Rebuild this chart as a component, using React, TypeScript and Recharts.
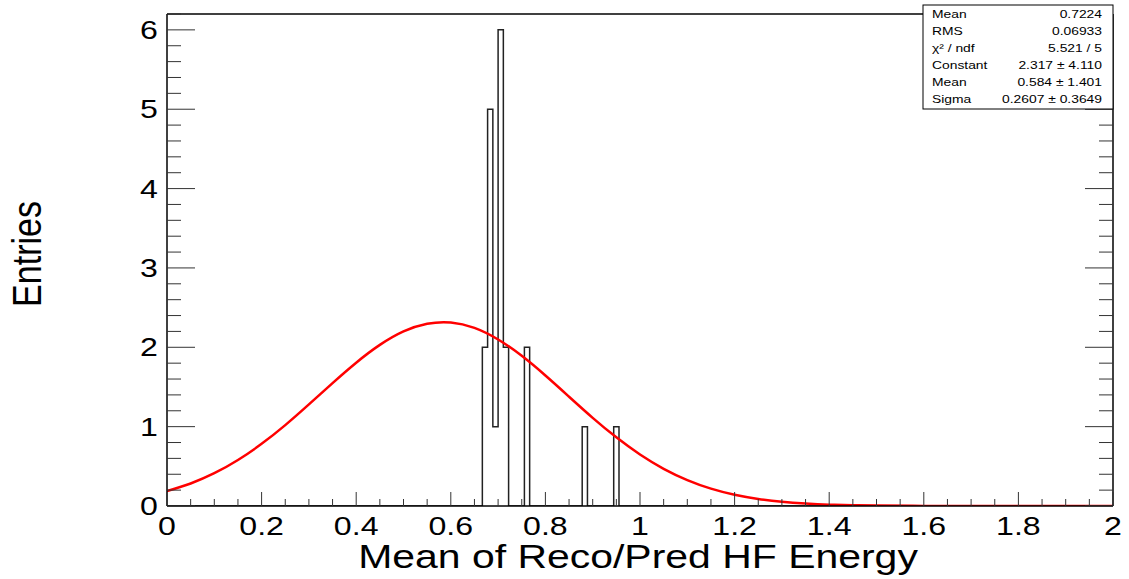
import React from 'react';
import { ComposedChart, Line, XAxis, YAxis } from 'recharts';

const FONT = '"Liberation Sans", Arial, sans-serif';
// the reference picture is stretched sideways, so text is too
const SX = 1.26;

const xMajorTicks = [0, 0.2, 0.4, 0.6, 0.8, 1, 1.2, 1.4, 1.6, 1.8, 2];
const xAllTicks = [
  0, 0.05, 0.1, 0.15, 0.2, 0.25, 0.3, 0.35, 0.4, 0.45, 0.5, 0.55, 0.6, 0.65,
  0.7, 0.75, 0.8, 0.85, 0.9, 0.95, 1, 1.05, 1.1, 1.15, 1.2, 1.25, 1.3, 1.35,
  1.4, 1.45, 1.5, 1.55, 1.6, 1.65, 1.7, 1.75, 1.8, 1.85, 1.9, 1.95, 2,
];
const yMajorTicks = [0, 1, 2, 3, 4, 5, 6];
const yAllTicks = [
  0, 0.2, 0.4, 0.6, 0.8, 1, 1.2, 1.4, 1.6, 1.8, 2, 2.2, 2.4, 2.6, 2.8, 3, 3.2,
  3.4, 3.6, 3.8, 4, 4.2, 4.4, 4.6, 4.8, 5, 5.2, 5.4, 5.6, 5.8, 6, 6.2,
];

// histogram outline: low edge of each step and its count
const binEdges = [
  0, 0.6667, 0.6778, 0.6889, 0.7, 0.7111, 0.7222, 0.7556, 0.7667, 0.8778,
  0.8889, 0.9444, 0.9556, 2,
];
const binCounts = [0, 2, 5, 1, 6, 2, 0, 2, 0, 1, 0, 1, 0, 0];

// gaussian fit curve
const fitX = [
  0, 0.05, 0.1, 0.15, 0.2, 0.25, 0.3, 0.35, 0.4, 0.45, 0.5, 0.55, 0.6, 0.65,
  0.7, 0.75, 0.8, 0.85, 0.9, 0.95, 1, 1.05, 1.1, 1.15, 1.2, 1.25, 1.3, 1.35,
  1.4, 1.45, 1.5, 1.6, 1.7, 1.8, 1.9, 2,
];
const fitY = [
  0.188, 0.284, 0.413, 0.58, 0.783, 1.019, 1.28, 1.549, 1.806, 2.03, 2.2,
  2.297, 2.313, 2.244, 2.098, 1.892, 1.644, 1.377, 1.111, 0.865, 0.649, 0.469,
  0.327, 0.219, 0.142, 0.089, 0.053, 0.031, 0.017, 0.009, 0.005, 0.001, 0, 0,
  0, 0,
];

const statNames = ['Mean', 'RMS', 'χ² / ndf', 'Constant', 'Mean', 'Sigma'];
const statValues = [
  '0.7224',
  '0.06933',
  '5.521 / 5',
  '2.317 ± 4.110',
  '0.584 ± 1.401',
  '0.2607 ± 0.3649',
];

const histData = binEdges.map((x, i) => ({ x, y: binCounts[i] }));
const fitData = fitX.map((x, i) => ({ x, y: fitY[i] }));

const TICK_COLOR = '#333';

// bottom: inward tick + label for majors
const BottomTick = (props: any) => {
  const { x, y, payload } = props;
  const major = xMajorTicks.includes(payload.value);
  return (
    <g>
      <line x1={x} x2={x} y1={y} y2={y - (major ? 14 : 7)} stroke={TICK_COLOR} />
      {major && (
        <text
          transform={`translate(${x},${y + 29}) scale(${SX},1)`}
          textAnchor="middle"
          fontSize={25.5}
          fontFamily={FONT}
          fill="#000"
        >
          {payload.value}
        </text>
      )}
    </g>
  );
};

const TopTick = (props: any) => {
  const { x, y, payload } = props;
  const major = xMajorTicks.includes(payload.value);
  return <line x1={x} x2={x} y1={y} y2={y + (major ? 14 : 7)} stroke={TICK_COLOR} />;
};

const LeftTick = (props: any) => {
  const { x, y, payload } = props;
  const major = yMajorTicks.includes(payload.value);
  return (
    <g>
      <line x1={x} x2={x + (major ? 28 : 14)} y1={y} y2={y} stroke={TICK_COLOR} />
      {major && (
        <text
          transform={`translate(${x - 9},${y + 9}) scale(${SX},1)`}
          textAnchor="end"
          fontSize={25.5}
          fontFamily={FONT}
          fill="#000"
        >
          {payload.value}
        </text>
      )}
    </g>
  );
};

const RightTick = (props: any) => {
  const { x, y, payload } = props;
  const major = yMajorTicks.includes(payload.value);
  return <line x1={x} x2={x - (major ? 28 : 14)} y1={y} y2={y} stroke={TICK_COLOR} />;
};

const frame = { stroke: '#000', strokeWidth: 1.5 };

export default function App() {
  return (
    <div
      style={{
        position: 'absolute',
        left: 0,
        top: 0,
        width: 1129,
        height: 579,
        background: '#fff',
      }}
    >
      <ComposedChart
        width={1129}
        height={579}
        margin={{ top: 13, right: 15, bottom: 0, left: 0 }}
      >
        <XAxis
          xAxisId="x"
          type="number"
          dataKey="x"
          domain={[0, 2]}
          allowDataOverflow
          ticks={xAllTicks}
          interval={0}
          tickLine={false}
          tickSize={0}
          tickMargin={0}
          axisLine={frame}
          tick={BottomTick}
          height={73}
        />
        <XAxis
          xAxisId="top"
          orientation="top"
          type="number"
          domain={[0, 2]}
          allowDataOverflow
          ticks={xAllTicks}
          interval={0}
          tickLine={false}
          tickSize={0}
          tickMargin={0}
          axisLine={frame}
          tick={TopTick}
          height={1}
        />
        <YAxis
          yAxisId="y"
          type="number"
          domain={[0, 6.2]}
          allowDataOverflow
          ticks={yAllTicks}
          interval={0}
          tickLine={false}
          tickSize={0}
          tickMargin={0}
          axisLine={frame}
          tick={LeftTick}
          width={167}
        />
        <YAxis
          yAxisId="right"
          orientation="right"
          type="number"
          domain={[0, 6.2]}
          allowDataOverflow
          ticks={yAllTicks}
          interval={0}
          tickLine={false}
          tickSize={0}
          tickMargin={0}
          axisLine={frame}
          tick={RightTick}
          width={1}
        />
        <Line
          xAxisId="x"
          yAxisId="y"
          data={histData}
          dataKey="y"
          type="stepAfter"
          stroke="#222"
          strokeWidth={1.5}
          dot={false}
          activeDot={false}
          isAnimationActive={false}
        />
        <Line
          xAxisId="x"
          yAxisId="y"
          data={fitData}
          dataKey="y"
          type="natural"
          stroke="#ff0000"
          strokeWidth={2.5}
          dot={false}
          activeDot={false}
          isAnimationActive={false}
        />
      </ComposedChart>

      <svg
        width={1129}
        height={579}
        style={{ position: 'absolute', left: 0, top: 0, pointerEvents: 'none' }}
      >
        <text
          transform={`translate(27,254) rotate(-90) scale(1,1.18)`}
          textAnchor="middle"
          dominantBaseline="central"
          fontSize={34}
          fontFamily={FONT}
          fill="#000"
        >
          Entries
        </text>
        <text
          transform={`translate(638,568) scale(${SX},1)`}
          textAnchor="middle"
          fontSize={32.5}
          fontFamily={FONT}
          fill="#000"
        >
          Mean of Reco/Pred HF Energy
        </text>

        <rect x={923} y={5} width={190} height={104} fill="#fff" stroke="#000" strokeWidth={1} />
        {statNames.map((name, i) => (
          <g key={i}>
            <text
              transform={`translate(932,${18 + i * 17}) scale(${SX},1)`}
              fontSize={11}
              fontFamily={FONT}
              fill="#000"
            >
              {name}
            </text>
            <text
              transform={`translate(1102,${18 + i * 17}) scale(${SX},1)`}
              textAnchor="end"
              fontSize={11}
              fontFamily={FONT}
              fill="#000"
            >
              {statValues[i]}
            </text>
          </g>
        ))}
      </svg>
    </div>
  );
}
